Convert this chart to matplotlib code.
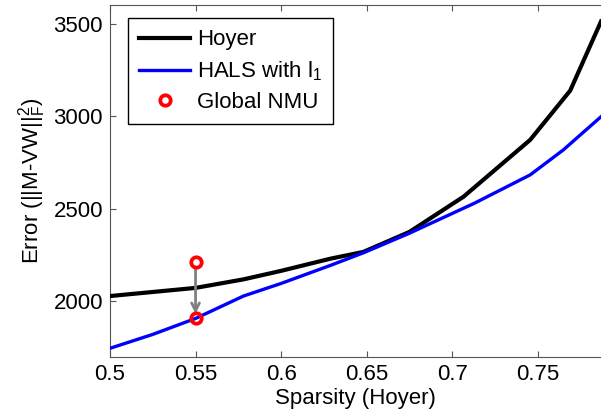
import numpy as np
import matplotlib
matplotlib.use("Agg")
import matplotlib.pyplot as plt
from matplotlib.ticker import FormatStrFormatter

# data
hoyer_x = [0.5, 0.55, 0.578, 0.6, 0.629, 0.648, 0.675, 0.7066, 0.7456, 0.769, 0.787]
hoyer_y = [2029, 2073, 2119, 2165, 2231, 2267, 2375, 2565, 2872, 3138, 3511]

hals_x = [0.5, 0.525, 0.55, 0.578, 0.6, 0.629, 0.648, 0.675, 0.713, 0.7456, 0.765, 0.787]
hals_y = [1747, 1822, 1908, 2029, 2097, 2195, 2262, 2368, 2530, 2683, 2818, 2997]

nmu_x = [0.55, 0.55]
nmu_y = [2211, 1908]

xticks = [0.5, 0.55, 0.6, 0.65, 0.7, 0.75]
yticks = [2000, 2500, 3000, 3500]

plt.rcParams['font.family'] = ['Liberation Sans', 'DejaVu Sans']
plt.rcParams['mathtext.fontset'] = 'custom'
plt.rcParams['mathtext.rm'] = 'Liberation Sans'
plt.rcParams['mathtext.it'] = 'Liberation Sans'

fig = plt.figure(figsize=(6.01, 4.16), dpi=100, facecolor="white")
ax = fig.add_axes([110/601, 1-357/416, 1-110/601, (357-5)/416])

ax.plot(hoyer_x, hoyer_y, color='black', lw=3, label='Hoyer', zorder=3)
ax.plot(hals_x, hals_y, color='blue', lw=2.4, label=r'HALS with l$_1$', zorder=3)

# arrow from the global NMU start to its end
ax.annotate('', xy=(nmu_x[1], nmu_y[1] + 10), xytext=(nmu_x[0], nmu_y[0] - 10),
            arrowprops=dict(arrowstyle='->', color='gray', lw=2,
                            mutation_scale=14), zorder=4)
ax.plot(nmu_x, nmu_y, 'o', color='red', markerfacecolor='none', markeredgewidth=2.7,
        markersize=7.5, ls='none', label='Global NMU', zorder=5)

ax.set_xlim(0.5, 0.787)
ax.set_ylim(1700, 3600)
ax.set_xticks(xticks)
ax.set_yticks(yticks)
ax.xaxis.set_major_formatter(FormatStrFormatter('%g'))
ax.tick_params(direction='in', length=4, labelsize=16, color='#555555',
               top=True, right=False, pad=5)
for s in ['left', 'bottom', 'top']:
    ax.spines[s].set_color('#555555')
ax.spines['right'].set_visible(False)

ax.set_xlabel('Sparsity (Hoyer)', fontsize=16, labelpad=2)
ax.set_ylabel(r'Error (||M-VW||$_F^2$)', fontsize=16, labelpad=4)

leg = ax.legend(loc='upper left', bbox_to_anchor=(0.037, 0.962), fontsize=16,
                fancybox=False, edgecolor='black', framealpha=1,
                handlelength=2.3, handletextpad=0.3, borderpad=0.5,
                labelspacing=0.4, borderaxespad=0)
leg.get_frame().set_linewidth(1)

fig.savefig("out.png", dpi=100)
